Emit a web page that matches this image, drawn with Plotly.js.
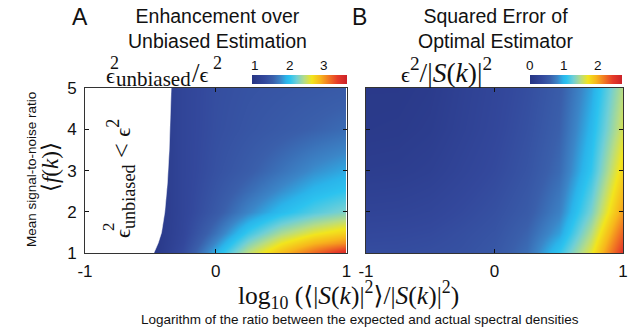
<!DOCTYPE html>
<html>
<head>
<meta charset="utf-8">
<script src="https://cdn.plot.ly/plotly-3.0.1.min.js"></script>
<style>html,body{margin:0;padding:0;background:#fff;}#chart{width:644px;height:328px;}</style>
</head>
<body>
<div id="chart"></div>
<script>
// ---------- data ----------
// x: log10(<|S(k)|^2>/|S(k)|^2), y: mean SNR <f(k)>
const logRatio = [-1, -0.75, -0.5, -0.25, 0, 0.25, 0.5, 0.75, 1];
const xTickVals = [-1, 0, 1];
const xTickText = ['-1', '0', '1'];
const yTickVals = [1, 2, 3, 4, 5];

// Panel A: enhancement over unbiased estimation, eps_unbiased^2 / eps^2
const snrA = [1, 1.25, 1.5, 2, 2.5, 3, 4, 5];
const enhSnr1    = [0.80, 0.85, 0.92, 1.30, 1.90, 2.45, 2.85, 3.20, 3.55];
const enhSnr1_25 = [0.80, 0.85, 0.92, 1.25, 1.75, 2.25, 2.62, 2.88, 3.05];
const enhSnr1_5  = [0.80, 0.85, 0.93, 1.22, 1.62, 2.05, 2.38, 2.60, 2.75];
const enhSnr2    = [0.80, 0.85, 0.93, 1.20, 1.45, 1.72, 1.95, 2.12, 2.25];
const enhSnr2_5  = [0.80, 0.85, 0.94, 1.20, 1.40, 1.58, 1.76, 1.92, 2.02];
const enhSnr3    = [0.80, 0.85, 0.94, 1.20, 1.36, 1.48, 1.62, 1.76, 1.86];
const enhSnr4    = [0.80, 0.85, 0.95, 1.20, 1.33, 1.40, 1.46, 1.52, 1.58];
const enhSnr5    = [0.80, 0.85, 0.95, 1.20, 1.32, 1.37, 1.40, 1.43, 1.46];
const enhRange = [0.9, 3.65];
const enhTicks = [1, 2, 3];

// boundary where eps_unbiased^2 = eps^2 (left of it is blank)
const boundarySnr = [1, 1.25, 1.5, 1.75, 2, 2.7, 3.5, 4.3, 5];
const boundaryLog = [-0.474, -0.44, -0.415, -0.40, -0.39, -0.37, -0.356, -0.348, -0.34];

// Panel B: squared error of optimal estimator, eps^2/|S(k)|^2
const snrB = [1, 1.5, 2, 3, 4, 5];
const errSnr1   = [0.40, 0.40, 0.42, 0.45, 0.52, 0.68, 1.10, 1.66, 2.50];
const errSnr1_5 = [0.34, 0.35, 0.37, 0.42, 0.48, 0.62, 0.90, 1.48, 2.28];
const errSnr2   = [0.27, 0.28, 0.31, 0.37, 0.44, 0.55, 0.78, 1.30, 2.05];
const errSnr3   = [0.16, 0.17, 0.21, 0.29, 0.37, 0.48, 0.66, 1.10, 1.80];
const errSnr4   = [0.10, 0.11, 0.15, 0.24, 0.33, 0.44, 0.60, 1.00, 1.60];
const errSnr5   = [0.08, 0.08, 0.12, 0.22, 0.31, 0.41, 0.56, 0.92, 1.50];
const errRange = [0, 2.7];
const errTicks = [0, 1, 2];

// ---------- styling ----------
const W = 644, H = 328;
const SANS = 'Liberation Sans, Arial, Helvetica, sans-serif';
const SERIF = 'Liberation Serif, DejaVu Serif, Times New Roman, serif';
const jetLike = [
  [0.00, '#273584'], [0.13, '#33489c'], [0.22, '#3a5fab'], [0.30, '#3b86c8'],
  [0.36, '#2ab4ea'], [0.40, '#2cc3ef'], [0.47, '#6fcfd6'], [0.55, '#b5dc86'],
  [0.63, '#f2e51d'], [0.72, '#f7b61c'], [0.80, '#f27d22'], [0.90, '#e53b29'],
  [1.00, '#cc2229']
];
const PA = {l: 85, r: 346.5, t: 88, b: 253.3};
const PB = {l: 366, r: 623, t: 88, b: 253.3};
const CBA = {l: 251.7, r: 346.7, t: 75.7, b: 84.3};
const CBB = {l: 530, r: 622.3, t: 75.7, b: 84.3};
const EPS = '<span style="font-size:22px">ϵ</span>';

function fx(p) { return p / W; }
function fy(p) { return 1 - p / H; }
function ann(text, x, y, size, family, extra) {
  return Object.assign({
    text: text, x: fx(x), y: fy(y), xref: 'paper', yref: 'paper',
    showarrow: false, xanchor: 'center', yanchor: 'middle',
    font: {size: size, family: family, color: '#111'}
  }, extra || {});
}

const zA = [enhSnr1, enhSnr1_25, enhSnr1_5, enhSnr2, enhSnr2_5, enhSnr3, enhSnr4, enhSnr5];
const zB = [errSnr1, errSnr1_5, errSnr2, errSnr3, errSnr4, errSnr5];

function cbar(cb) {
  return {
    orientation: 'h', x: fx((cb.l + cb.r) / 2), xanchor: 'center',
    y: fy(cb.b), yanchor: 'bottom', len: cb.r - cb.l, lenmode: 'pixels',
    thickness: cb.b - cb.t, thicknessmode: 'pixels', xpad: 0, ypad: 0,
    outlinewidth: 0, ticks: '', showticklabels: false
  };
}

const lastSnr = boundarySnr[boundarySnr.length - 1];
const traces = [
  {
    type: 'heatmap', x: logRatio, y: snrA, z: zA, zsmooth: 'best',
    colorscale: jetLike, zmin: enhRange[0], zmax: enhRange[1],
    colorbar: cbar(CBA), hoverinfo: 'skip', xaxis: 'x', yaxis: 'y'
  },
  {
    type: 'scatter', mode: 'lines',
    x: [-1.05, boundaryLog[0]].concat(boundaryLog, [boundaryLog[boundaryLog.length - 1], -1.05]),
    y: [boundarySnr[0] - 0.05, boundarySnr[0] - 0.05].concat(boundarySnr, [lastSnr + 0.05, lastSnr + 0.05]),
    fill: 'toself', fillcolor: '#ffffff', line: {color: '#ffffff', width: 0.5},
    hoverinfo: 'skip', showlegend: false, xaxis: 'x', yaxis: 'y'
  },
  {
    type: 'heatmap', x: logRatio, y: snrB, z: zB, zsmooth: 'best',
    colorscale: jetLike, zmin: errRange[0], zmax: errRange[1],
    colorbar: cbar(CBB), hoverinfo: 'skip', xaxis: 'x2', yaxis: 'y2'
  }
];

function xax(P, anchor) {
  return {
    domain: [fx(P.l), fx(P.r)], range: [-1, 1], anchor: anchor,
    tickvals: xTickVals, ticktext: xTickText, ticks: 'inside', ticklen: 4,
    tickcolor: '#111', showline: true, linecolor: '#333', linewidth: 1, mirror: 'ticks',
    showgrid: false, zeroline: false, tickfont: {size: 17, family: SANS, color: '#111'},
    ticklabelstandoff: 2, layer: 'above traces', fixedrange: true
  };
}
function yax(P, anchor, labels) {
  return {
    domain: [fy(P.b), fy(P.t)], range: [1, 5], anchor: anchor,
    tickvals: yTickVals, ticks: 'inside', ticklen: 4, showticklabels: labels,
    tickcolor: '#111', showline: true, linecolor: '#333', linewidth: 1, mirror: 'ticks',
    showgrid: false, zeroline: false, tickfont: {size: 17, family: SANS, color: '#111'},
    ticklabelstandoff: 4, layer: 'above traces', fixedrange: true
  };
}

function cbLabels(vals, rng, cb) {
  return vals.map(v => ann(String(v), cb.l + (v - rng[0]) / (rng[1] - rng[0]) * (cb.r - cb.l), 66, 13.5, SANS));
}

const annotations = [
  ann('A', 80, 17, 23, SANS),
  ann('Enhancement over<br>Unbiased Estimation', 217, 28.5, 19.5, SANS),
  ann('B', 360, 17, 23, SANS),
  ann('Squared Error of<br>Optimal Estimator', 495, 28.5, 19.5, SANS),
  // colorbar title A, built from pieces so the subscript and superscript stack
  ann('ϵ', 110.5, 75, 22, SERIF),
  ann('2', 114, 63, 18, SERIF),
  ann('unbiased', 114, 79, 21, SERIF, {xanchor: 'left'}),
  ann('/' + EPS, 190, 73, 27, SERIF, {xanchor: 'left'}),
  ann('2', 218, 63, 18, SERIF),
  // colorbar title B
  ann(EPS + '<sup>2</sup>/|<i>S</i>(<i>k</i>)|<sup>2</sup>', 446, 71, 27.5, SERIF),
  // in-plot label (rotated)
  ann(EPS + '<sub>unbiased</sub> < ' + EPS + '<sup>2</sup>', 121, 179, 26, SERIF, {textangle: -90}),
  ann('2', 109, 226, 17, SERIF, {textangle: -90}),
  // axis titles
  ann('Mean signal-to-noise ratio', 31, 170, 13.5, SANS, {textangle: -90}),
  ann('⟨<i>f</i>(<i>k</i>)⟩', 50, 167, 23, SERIF, {textangle: -90}),
  ann('log<sub>10</sub> (⟨|<i>S</i>(<i>k</i>)|<sup>2</sup>⟩/|<i>S</i>(<i>k</i>)|<sup>2</sup>)', 348, 295, 25.5, SERIF),
  ann('Logarithm of the ratio between the expected and actual spectral densities', 360, 319, 13.5, SANS)
].concat(cbLabels(enhTicks, enhRange, CBA), cbLabels(errTicks, errRange, CBB));

const layout = {
  width: W, height: H, margin: {l: 0, r: 0, t: 0, b: 0},
  paper_bgcolor: '#ffffff', plot_bgcolor: '#ffffff', showlegend: false,
  font: {family: SANS, color: '#111'},
  xaxis: xax(PA, 'y'), yaxis: yax(PA, 'x', true),
  xaxis2: xax(PB, 'y2'), yaxis2: yax(PB, 'x2', false),
  annotations: annotations
};

Plotly.newPlot('chart', traces, layout, {displayModeBar: false, staticPlot: true});
</script>
</body>
</html>
